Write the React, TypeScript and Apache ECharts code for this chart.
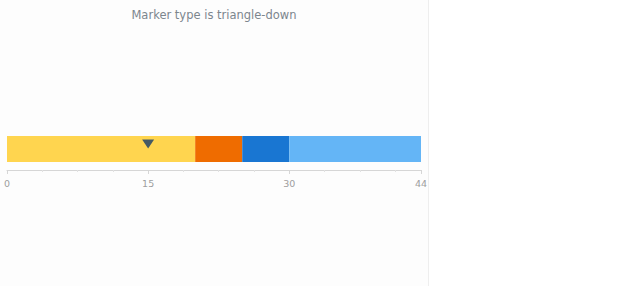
import React, { useEffect, useRef } from "react";
import * as echarts from "echarts";

const titleText = "Marker type is triangle-down";
const categories = ["Value"];
const rangeNames = ["Range 1", "Range 2", "Range 3", "Range 4"];
const rangeWidths = [20, 5, 5, 14];
const rangeColors = ["#ffd54f", "#ef6c00", "#1976d2", "#64b5f6"];
const markerValue = [15];
const axisMin = 0;
const axisMax = 44;
const axisInterval = 15;

export default function App() {
  const ref = useRef<HTMLDivElement>(null);
  useEffect(() => {
    document.body.style.margin = "0";
    const chart = echarts.init(ref.current!, null, { renderer: "svg" });
    const font = "'DejaVu Sans', sans-serif";
    const rangeSeries = rangeWidths.map((v, i) => ({
      type: "bar",
      name: rangeNames[i],
      stack: "ranges",
      data: [v],
      barWidth: 26,
      itemStyle: { color: rangeColors[i] },
      silent: true,
    }));
    chart.setOption({
      animation: false,
      backgroundColor: "#ffffff",
      graphic: [
        {
          type: "rect",
          shape: { x: 0, y: 0, width: 428, height: 286 },
          style: { fill: "#fdfdfd" },
          z: -10,
          silent: true,
        },
        {
          type: "line",
          shape: { x1: 428.5, y1: 0, x2: 428.5, y2: 286 },
          style: { stroke: "#eeeeee", lineWidth: 1 },
          z: -9,
          silent: true,
        },
      ],
      title: {
        text: titleText,
        left: 209,
        top: 4,
        textAlign: "center",
        textStyle: { color: "#7c868e", fontSize: 11.5, fontWeight: "normal", fontFamily: font },
      },
      grid: { left: 7, right: 199, top: 128, height: 42, containLabel: false },
      xAxis: {
        type: "value",
        min: axisMin,
        max: axisMax,
        interval: axisInterval,
        splitLine: { show: false },
        axisLine: { show: true, lineStyle: { color: "#d6d6d6" } },
        axisTick: { show: true, length: 4, lineStyle: { color: "#d6d6d6" } },
        minorTick: { show: true, splitNumber: 4, length: 2, lineStyle: { color: "#e2e2e2" } },
        axisLabel: { color: "#9e9e9e", fontSize: 9.5, fontFamily: font, margin: 8, showMaxLabel: true, showMinLabel: true },
      },
      yAxis: {
        type: "category",
        data: categories,
        show: false,
      },
      series: [
        ...rangeSeries,
        {
          type: "scatter",
          data: markerValue,
          symbol: "triangle",
          symbolRotate: 180,
          symbolSize: [12, 9],
          symbolOffset: [0, -5],
          itemStyle: { color: "#455a64", opacity: 1 },
          z: 5,
          silent: true,
        },
      ],
    });
    return () => chart.dispose();
  }, []);
  return <div ref={ref} style={{ width: 620, height: 300 }} />;
}
